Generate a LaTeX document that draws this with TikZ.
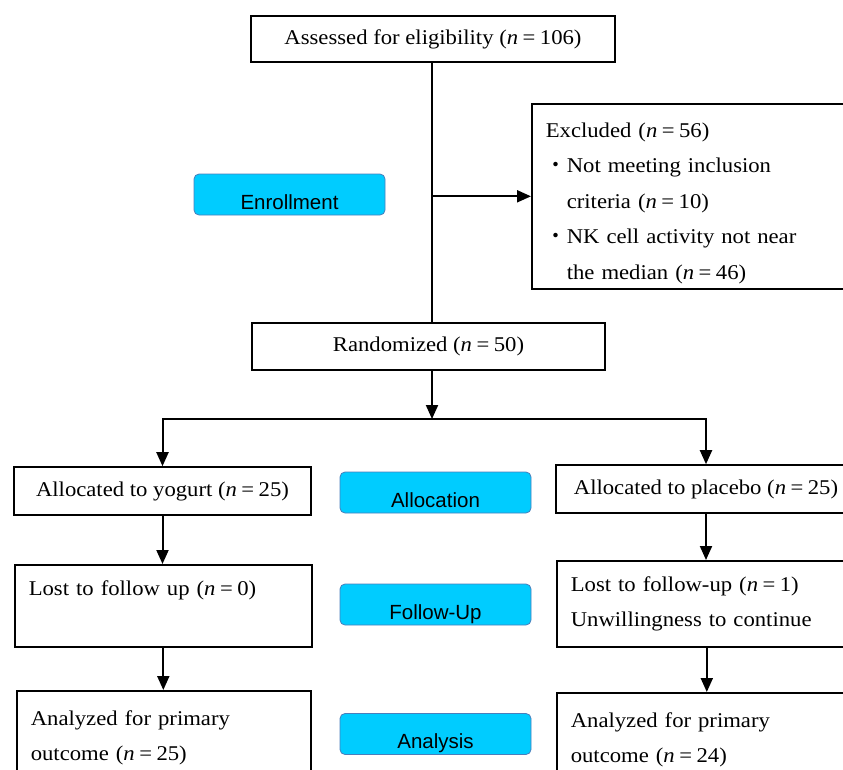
\documentclass[tikz,border=0pt]{standalone}
\usepackage{fontspec}
\setmainfont{Liberation Serif}[FakeStretch=1.08]
\setsansfont{Liberation Sans}
\newfontfamily\cjk{Noto Sans CJK JP}
\usetikzlibrary{arrows.meta}
\definecolor{stagecyan}{HTML}{00CCFF}
\definecolor{stageedge}{HTML}{4A7EBB}
\newcommand{\nis}[1]{(\textit{n}\kern4.5pt=\kern4.5pt#1)}

\begin{document}
\begin{tikzpicture}[x=1pt, y=-1pt,
	box/.style={draw, line width=1.6pt, fill=white, inner sep=0pt, font=\fontsize{21}{35.5}\selectfont},
	listbox/.style={box, anchor=north west, align=left, inner xsep=14pt},
	stage/.style={draw=stageedge, line width=0.8pt, fill=stagecyan, rounded corners=5pt, minimum width=191pt, minimum height=41pt, text height=29pt, text depth=0pt, inner sep=0pt, font=\sffamily\fontsize{20.5}{24}\selectfont},
	link/.style={line width=2pt, -{Triangle[length=14pt,width=12pt]}},
	trunk/.style={line width=2pt}]
	
	\useasboundingbox (0,0) rectangle (843,769);
	\clip (0,0) rectangle (843,769);
	
	\node[box, minimum width=364pt, minimum height=46pt] (assess) at (433,39) {Assessed for eligibility \nis{106}};
	\node[listbox, text width=297pt, minimum height=185pt] (excl) at (531,103) {\rule{0pt}{28pt}Excluded \nis{56}\\
		{\cjk ・}Not meeting inclusion\\
		\phantom{\cjk ・}criteria \nis{10}\\
		{\cjk ・}NK cell activity not near\\
		\phantom{\cjk ・}the median \nis{46}};
	\node[box, minimum width=353pt, minimum height=47pt] (rand) at (428.5,346.5) {Randomized \nis{50}};
	
	% groups
	\node[box, minimum width=297pt, minimum height=48pt] (yog) at (162.5,491) {Allocated to yogurt \nis{25}};
	\node[box, minimum width=300pt, minimum height=48pt] (plac) at (706,489) {Allocated to placebo \nis{25}};
	\node[listbox, text width=269pt, minimum height=82pt] (lostL) at (14,564) {Lost to follow up \nis{0}\\ \mbox{}};
	\node[listbox, text width=272pt, minimum height=86pt] (lostR) at (556,560) {Lost to follow-up \nis{1}\\ Unwillingness to continue};
	\node[listbox, text width=266pt, minimum height=94pt] (anaL) at (16,690) {Analyzed for primary\\ outcome \nis{25}};
	\node[listbox, text width=272pt, minimum height=94pt] (anaR) at (556,692) {Analyzed for primary\\ outcome \nis{24}};
	
	% stages
	\node[stage] (enrol) at (289.5,194.5) {Enrollment};
	\node[stage] (alloc) at (435.5,492.5) {Allocation};
	\node[stage] (follow) at (435.5,604.5) {Follow-Up};
	\node[stage] (analysis) at (435.5,734) {Analysis};
	
	\coordinate (split) at (432,419);
	
	\draw[trunk] (assess.south -| split) -- (rand.north -| split);
	\draw[link] (split |- excl.west) -- (excl.west);
	\draw[link] (split |- rand.south) -- (split);
	\draw[link] (split) -| (yog.north);
	\draw[link] (split) -| (plac.north);
	
	\draw[link] (yog.south) -- (yog.south |- lostL.north);
	\draw[link] (lostL.south) -- (lostL.south |- anaL.north);
	\draw[link] (plac.south) -- (plac.south |- lostR.north);
	\draw[link] (lostR.south) -- (lostR.south |- anaR.north);
	
\end{tikzpicture}
\end{document}
